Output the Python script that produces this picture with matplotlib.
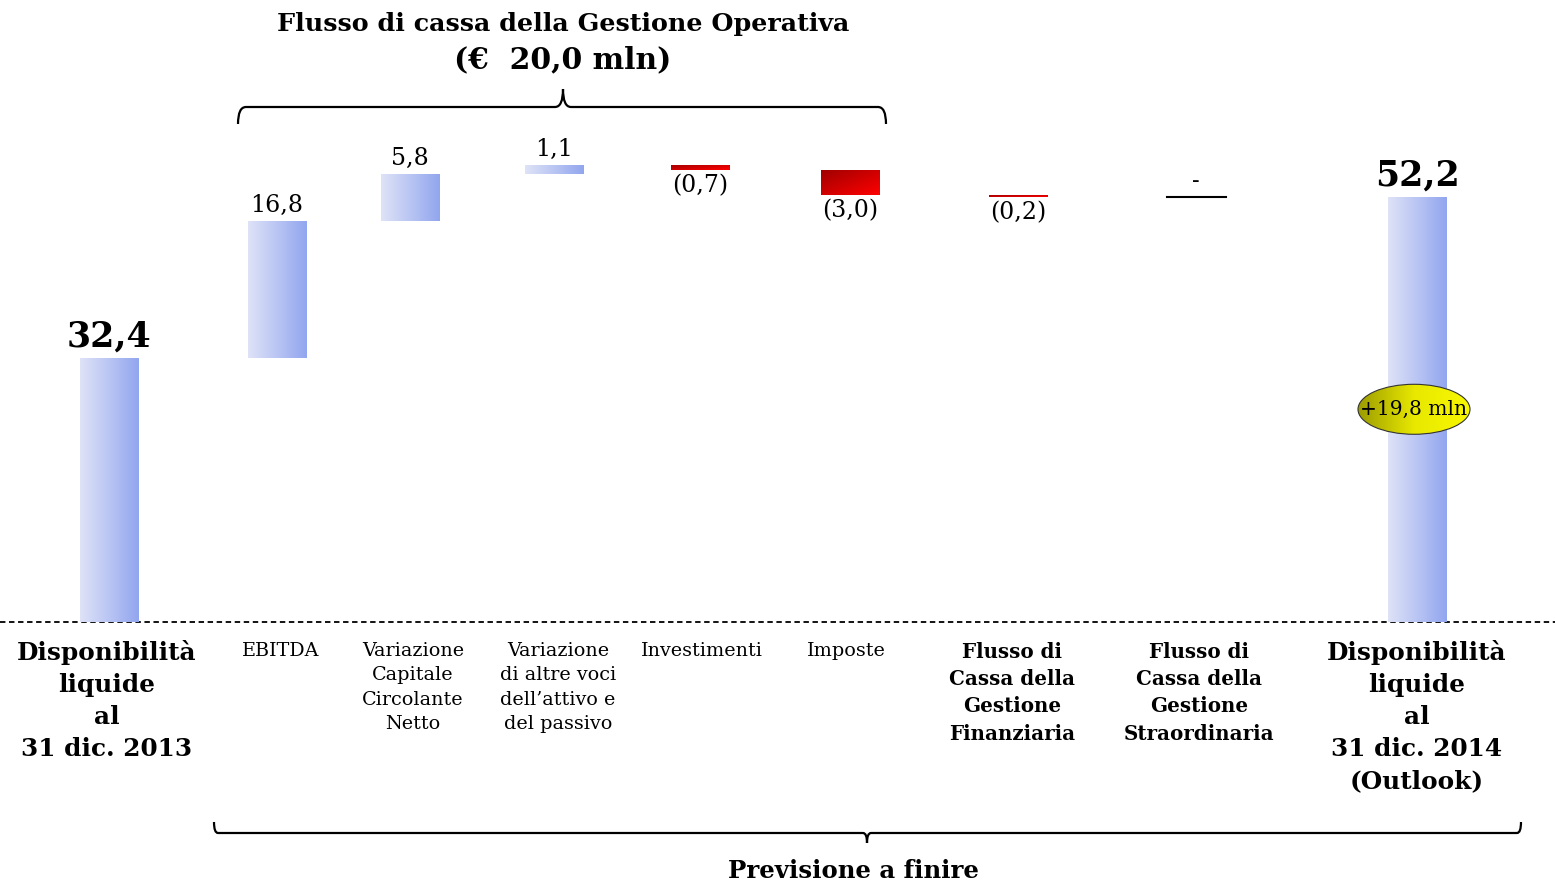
import matplotlib.pyplot as plt
import numpy as np
from matplotlib.colors import LinearSegmentedColormap
from matplotlib.patches import Ellipse, PathPatch
from matplotlib.path import Path

plt.rcParams['font.family'] = ['DejaVu Serif']

########################################################################################################################
# data (EUR mln)
START_VALUE = 32.4
END_VALUE = 52.2
step_labels = ["EBITDA", "Variazione\nCapitale\nCircolante\nNetto",
               "Variazione\ndi altre voci\ndell\u2019attivo e\ndel passivo",
               "Investimenti", "Imposte",
               "Flusso di\nCassa della\nGestione\nFinanziaria",
               "Flusso di\nCassa della\nGestione\nStraordinaria"]
step_values = [16.8, 5.8, 1.1, -0.7, -3.0, -0.2, 0.0]
step_bold = [False, False, False, False, False, True, True]
start_label = "Disponibilit\u00e0\nliquide\nal\n31 dic. 2013"
end_label = "Disponibilit\u00e0\nliquide\nal\n31 dic. 2014\n(Outlook)"
title_lines = ["Flusso di cassa della Gestione Operativa", "(\u20ac  20,0 mln)"]
bottom_title = "Previsione a finire"

########################################################################################################################
# layout (figure pixels)
W, H = 1555, 884
BASE_PY = 622                     # pixel row of the zero line
PX_PER_UNIT = 8.15
x_start = 109
x_steps = [277, 410, 554, 700, 850, 1018, 1196]
x_step_labels = [281, 413, 558, 702, 846, 1012, 1199]
x_end = 1417
BAR_W = 59

BLUE = ("#dfe3f7", "#92a6ef")
RED = ("#a00000", "#ff0000")


def fmt(v):
    return f"{abs(v):.1f}".replace(".", ",")


def grad_fill(ax, patch, c0, c1, diagonal=False):
    x0, y0 = patch.get_xy()
    w, h = patch.get_width(), patch.get_height()
    cmap = LinearSegmentedColormap.from_list("g", [c0, c1])
    n = 128
    if diagonal:
        gx, gy = np.meshgrid(np.linspace(0, 1, n), np.linspace(0, 1, n))
        g = (gx + gy) / 2
    else:
        g = np.tile(np.linspace(0, 1, n), (2, 1))
    im = ax.imshow(g, cmap=cmap, extent=[x0, x0 + w, min(y0, y0 + h), max(y0, y0 + h)],
                   aspect="auto", origin="upper", zorder=2, interpolation="bilinear")
    im.set_clip_path(patch)


fig = plt.figure(figsize=(W / 100, H / 100), dpi=100)
ax = fig.add_axes([0, 0, 1, 1])
ov = fig.add_axes([0, 0, 1, 1], facecolor="none")   # overlay in pixel coords
ov.set_xlim(0, W)
ov.set_ylim(H, 0)
ov.axis("off")

# waterfall
tops = START_VALUE + np.cumsum(step_values)
bottoms = tops - np.array(step_values)

b0 = ax.bar(x_start, START_VALUE, width=BAR_W, color="none", zorder=2)[0]
grad_fill(ax, b0, *BLUE)
ax.annotate(fmt(START_VALUE), (x_start, START_VALUE), xytext=(0, 3), textcoords="offset points",
            ha="center", va="bottom", fontsize=25, fontweight="bold")

for xs, bot, v in zip(x_steps, bottoms, step_values):
    if v == 0:
        ax.plot([xs - BAR_W / 2, xs + BAR_W / 2], [bot, bot], color="black", lw=1.5, zorder=3)
        ax.annotate("-", (xs, bot), xytext=(0, 3), textcoords="offset points",
                    ha="center", va="bottom", fontsize=16)
        continue
    b = ax.bar(xs, v, bottom=bot, width=BAR_W, color="none", zorder=2)[0]
    if v > 0:
        grad_fill(ax, b, *BLUE)
        ax.annotate(fmt(v), (xs, bot + v), xytext=(0, 3), textcoords="offset points",
                    ha="center", va="bottom", fontsize=17)
    else:
        grad_fill(ax, b, *RED, diagonal=True)
        ax.annotate(f"({fmt(v)})", (xs, bot + v), xytext=(0, -3), textcoords="offset points",
                    ha="center", va="top", fontsize=17)

b1 = ax.bar(x_end, END_VALUE, width=BAR_W, color="none", zorder=2)[0]
grad_fill(ax, b1, *BLUE)
ax.annotate(fmt(END_VALUE), (x_end, END_VALUE), xytext=(0, 3), textcoords="offset points",
            ha="center", va="bottom", fontsize=25, fontweight="bold")

# delta bubble
delta = END_VALUE - START_VALUE
ell = Ellipse((x_end - 3, END_VALUE / 2), 112, 50 / PX_PER_UNIT, facecolor="none",
              edgecolor="#333333", lw=0.8, zorder=4)
ax.add_patch(ell)
ex0 = x_end - 3 - 56
im = ax.imshow(np.tile(np.linspace(0, 1, 128), (2, 1)),
               cmap=LinearSegmentedColormap.from_list("y", ["#9c9c00", "#e8e800", "#f8f800"]),
               extent=[ex0, ex0 + 112, END_VALUE / 2 - 25 / PX_PER_UNIT, END_VALUE / 2 + 25 / PX_PER_UNIT],
               aspect="auto", zorder=3, interpolation="bilinear")
im.set_clip_path(ell)
ax.text(x_end - 3, END_VALUE / 2, f"+{fmt(delta)} mln", ha="center", va="center",
        fontsize=14.5, zorder=5)

# zero line
ax.axhline(0, color="black", lw=1.3, ls=(0, (3, 2)), zorder=1)

ax.set_xlim(0, W)
ax.set_ylim(-(H - BASE_PY) / PX_PER_UNIT, BASE_PY / PX_PER_UNIT)
ax.axis("off")

# category labels
ov.text(x_start - 2, 640, start_label, ha="center", va="top", fontsize=17.8, fontweight="bold",
        linespacing=1.42)
ov.text(x_end, 640, end_label, ha="center", va="top", fontsize=17.8, fontweight="bold",
        linespacing=1.42)
for xl, lab, bold in zip(x_step_labels, step_labels, step_bold):
    ov.text(xl, 642, lab, ha="center", va="top", fontsize=14.3 if bold else 13.8,
            fontweight="bold" if bold else "normal", linespacing=1.45)

# titles
ov.text(563, 24, title_lines[0], ha="center", va="center", fontsize=18.3, fontweight="bold")
ov.text(563, 60, title_lines[1], ha="center", va="center", fontsize=21.5, fontweight="bold")
ov.text(853, 871, bottom_title, ha="center", va="center", fontsize=17.6, fontweight="bold")


def brace(x0, x1, xm, y_line, y_end, y_tip, r=10):
    verts = [(x0, y_end), (x0, y_line), (x0 + r, y_line),
             (xm - r, y_line), (xm, y_line), (xm, y_tip),
             (xm, y_tip), (xm, y_line), (xm + r, y_line),
             (x1 - r, y_line), (x1, y_line), (x1, y_end)]
    codes = [Path.MOVETO, Path.CURVE3, Path.CURVE3,
             Path.LINETO, Path.CURVE3, Path.CURVE3,
             Path.MOVETO, Path.CURVE3, Path.CURVE3,
             Path.LINETO, Path.CURVE3, Path.CURVE3]
    ov.add_patch(PathPatch(Path(verts, codes), facecolor="none", edgecolor="black", lw=1.6))


brace(238, 886, 563, 107, 124, 89, r=8)
brace(214, 1521, 867, 833, 822, 843, r=4)

fig.savefig("out.png", dpi=100)
